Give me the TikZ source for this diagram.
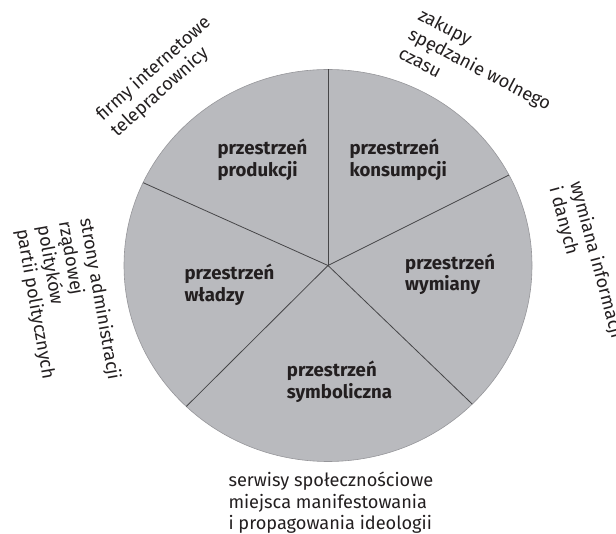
\documentclass[tikz,border=0pt]{standalone}
\usepackage{fontspec}
\setmainfont{Fira Sans}
\definecolor{piefill}{RGB}{185,186,190}
\definecolor{pieedge}{RGB}{150,150,154}
\definecolor{spokecol}{RGB}{70,70,72}
\definecolor{labeltext}{RGB}{35,31,32}
\begin{document}
\begin{tikzpicture}[
        x=1pt,y=1pt,
        spacelabel/.style={anchor=base west, align=left, inner sep=0pt, text=labeltext, font=\bfseries\fontsize{18.6}{21.5}\selectfont},
        outerlabel/.style={anchor=base west, align=left, inner sep=0pt, text=labeltext, font=\fontsize{18.2}{21.5}\selectfont},
        spoke/.style={draw=spokecol, line width=0.8pt},
    ]
    \useasboundingbox (0,0) rectangle (616,-534);
    \coordinate (c) at (328,-265.5);
    \fill[piefill, draw=pieedge, line width=0.6pt] (c) ellipse [x radius=204, y radius=196];
    \foreach \a in {90,27.5,-45,226,155}
        \draw[spoke] (c) -- ++(\a:204pt and 196pt);
    % inner spaces (anchored at the last line)
    \node[spacelabel] (prod) at (217.3,-176.5) {przestrzeń\\produkcji};
    \node[spacelabel] (kons) at (349.3,-176.5) {przestrzeń\\konsumpcji};
    \node[spacelabel] (wladz) at (184.3,-301.5) {przestrzeń\\władzy};
    \node[spacelabel] (wym) at (405,-290.8) {przestrzeń\\wymiany};
    \node[spacelabel] (symb) at (286.7,-398.2) {przestrzeń\\symboliczna};
    % outer labels
    \node[outerlabel, rotate=42] (firmy) at (117.1,-137.7) {firmy internetowe\\telepracownicy};
    \node[outerlabel, rotate=-27.5] (zak) at (397.1,-57.1) {zakupy\\spędzanie wolnego\\czasu};
    \node[outerlabel, rotate=-75] (info) at (549.2,-188.6) {wymiana informacji\\i danych};
    \node[outerlabel, rotate=-80] (adm) at (16.5,-230.2) {strony administracji\\rządowej\\polityków\\partii politycznych};
    \node[outerlabel] (serw) at (228.3,-529.7) {serwisy społecznościowe\\miejsca manifestowania\\i propagowania ideologii};
\end{tikzpicture}
\end{document}
